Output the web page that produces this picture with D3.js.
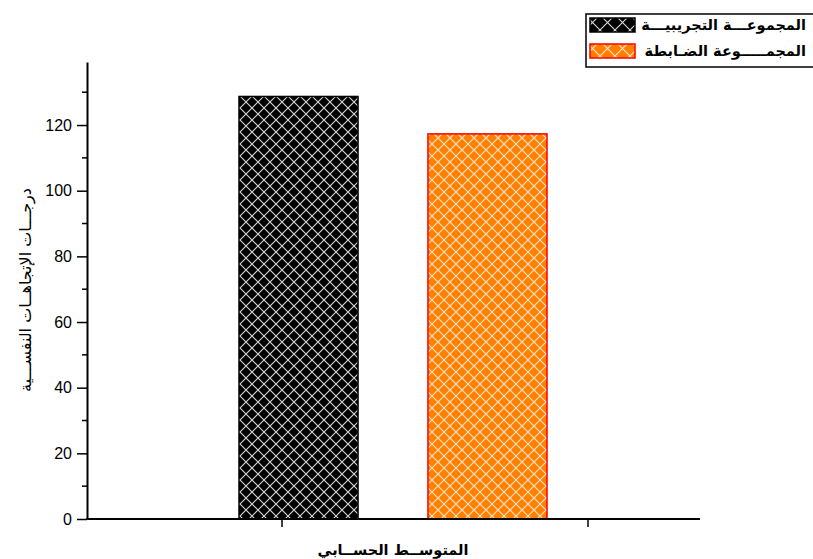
<!DOCTYPE html>
<html>
<head>
<meta charset="utf-8">
<script src="https://cdn.jsdelivr.net/npm/d3@7"></script>
<style>
  html, body { margin: 0; padding: 0; background: #fff; }
  svg { display: block; font-family: Arial, "Liberation Sans", sans-serif; }
  .ar { font-family: "DejaVu Sans", sans-serif; }
</style>
</head>
<body>
<svg id="chart" width="813" height="559"></svg>
<script>
// Group names (legend) and their mean scores
const groups = ["المجموعـــة التجريبيـــة", "المجمـــــوعة الضـابطة"];
const means = [128.7, 117.3];
const fills = ["#000000", "#FF8000"];
const borders = ["#000000", "#FF0000"];
const hatchColors = ["#d8d8d8", "#ffe6cc"];

// Axis ticks
const yMajorTicks = [0, 20, 40, 60, 80, 100, 120];
const yMinorTicks = [10, 30, 50, 70, 90, 110, 130];
const xTickKeys = ["t1", "t2"];

const xTitle = "المتوســط الحســابي";
const yTitle = "درجـــات الإتجاهــات النفســـية";

const svg = d3.select("#chart");
const defs = svg.append("defs");

// Cross-hatch patterns (bars and legend swatches)
function hatch(id, bg, line, size) {
  const p = defs.append("pattern")
    .attr("id", id)
    .attr("patternUnits", "userSpaceOnUse")
    .attr("width", size).attr("height", size);
  p.append("rect").attr("width", size).attr("height", size).attr("fill", bg);
  p.append("path")
    .attr("d", `M0,0L${size},${size}M${size},0L0,${size}`)
    .attr("stroke", line).attr("stroke-width", 1.1).attr("fill", "none");
}
groups.forEach((g, i) => {
  hatch("bar" + i, fills[i], hatchColors[i], 12);
  hatch("leg" + i, fills[i], hatchColors[i], 15);
});

// Plot frame
const x0 = 87, x1 = 700, yBase = 519;
const y = d3.scaleLinear().domain([0, 139.2]).range([yBase, 62]);

const x = d3.scaleBand()
  .domain(groups)
  .range([239, 547])
  .paddingInner(0.37)
  .paddingOuter(0);

const xTick = d3.scalePoint().domain(xTickKeys).range([282, 588]);

// Bars
svg.append("g").selectAll("rect")
  .data(groups)
  .join("rect")
  .attr("x", d => x(d))
  .attr("y", (d, i) => y(means[i]))
  .attr("width", x.bandwidth())
  .attr("height", (d, i) => yBase - y(means[i]))
  .attr("fill", (d, i) => `url(#bar${i})`)
  .attr("stroke", (d, i) => borders[i])
  .attr("stroke-width", 1.5);

// Y axis
const yAxis = svg.append("g").attr("transform", `translate(${x0},0)`);
yAxis.call(d3.axisLeft(y).tickValues(yMajorTicks).tickSize(10).tickPadding(5).tickSizeOuter(0));
yAxis.select(".domain").attr("stroke", "#000").attr("stroke-width", 2);
yAxis.selectAll(".tick line").attr("stroke", "#000").attr("stroke-width", 1.5);
yAxis.selectAll(".tick text").attr("font-size", 16).attr("fill", "#000")
  .attr("font-family", "Arial, 'Liberation Sans', sans-serif");
yAxis.append("g").selectAll("line")
  .data(yMinorTicks)
  .join("line")
  .attr("x1", -5).attr("x2", 0)
  .attr("y1", d => y(d)).attr("y2", d => y(d))
  .attr("stroke", "#000").attr("stroke-width", 1.5);

// X axis
const xAxis = svg.append("g");
xAxis.append("line")
  .attr("x1", x0 - 1).attr("x2", x1)
  .attr("y1", yBase).attr("y2", yBase)
  .attr("stroke", "#000").attr("stroke-width", 2);
xAxis.selectAll("line.tk")
  .data(xTickKeys)
  .join("line")
  .attr("class", "tk")
  .attr("x1", d => xTick(d)).attr("x2", d => xTick(d))
  .attr("y1", yBase).attr("y2", yBase + 8)
  .attr("stroke", "#000").attr("stroke-width", 1.5);

// Axis titles
svg.append("text")
  .attr("class", "ar")
  .attr("x", 393).attr("y", 555)
  .attr("text-anchor", "middle")
  .attr("font-weight", "bold").attr("font-size", 14.5)
  .attr("direction", "rtl")
  .text(xTitle);

svg.append("text")
  .attr("class", "ar")
  .attr("transform", "translate(31,290) rotate(-90)")
  .attr("text-anchor", "middle")
  .attr("font-size", 16)
  .attr("direction", "rtl")
  .text(yTitle);

// Legend
const legend = svg.append("g");
legend.append("rect")
  .attr("x", 586).attr("y", 14)
  .attr("width", 240).attr("height", 53)
  .attr("fill", "#fff").attr("stroke", "#000").attr("stroke-width", 1.5);
const li = legend.selectAll("g.item")
  .data(groups)
  .join("g")
  .attr("class", "item")
  .attr("transform", (d, i) => `translate(0,${i * 26})`);
li.append("rect")
  .attr("x", 590).attr("y", 18)
  .attr("width", 45).attr("height", 14)
  .attr("fill", (d, i) => `url(#leg${i})`)
  .attr("stroke", (d, i) => borders[i])
  .attr("stroke-width", 1.5);
li.append("text")
  .attr("class", "ar")
  .attr("x", 806).attr("y", 30)
  .attr("text-anchor", "start")
  .attr("direction", "rtl")
  .attr("font-weight", "bold").attr("font-size", 14.5)
  .text(d => d);
</script>
</body>
</html>
